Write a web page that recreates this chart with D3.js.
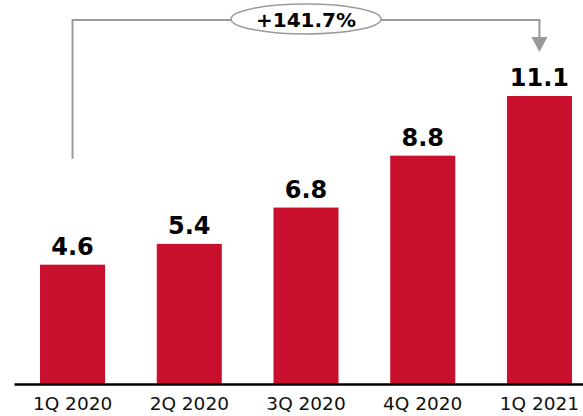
<!DOCTYPE html>
<html>
<head>
<meta charset="utf-8">
<script src="https://cdn.jsdelivr.net/npm/d3@7"></script>
<style>
body { margin: 0; background: #fff; }
text { font-family: Verdana, "DejaVu Sans", sans-serif; }
</style>
</head>
<body>
<script>
// quarterly values
var quarters = ["1Q 2020", "2Q 2020", "3Q 2020", "4Q 2020", "1Q 2021"];
var values = [4.6, 5.4, 6.8, 8.8, 11.1];
var valueLabels = ["4.6", "5.4", "6.8", "8.8", "11.1"];
var growthLabel = "+141.7%";

var width = 583, height = 416;
var baseY = 384;

var svg = d3.select("body").append("svg")
.attr("width", width)
.attr("height", height);

var xScale = d3.scaleBand().domain(quarters).range([14, 598]).paddingInner(0.443).paddingOuter(0.223);
var yScale = d3.scaleLinear().domain([0, 11.1]).range([baseY, 96]);

// bars
svg.selectAll("rect.bar")
.data(values)
.enter()
.append("rect")
.attr("class", "bar")
.attr("x", function(d, i){ return xScale(quarters[i]); })
.attr("y", function(d){ return yScale(d); })
.attr("width", xScale.bandwidth())
.attr("height", function(d){ return baseY - yScale(d); })
.attr("fill", "#c8102e");

// value labels
svg.selectAll("text.val")
.data(values)
.enter()
.append("text")
.attr("class", "val")
.attr("x", function(d, i){ return xScale(quarters[i]) + xScale.bandwidth() / 2; })
.attr("y", function(d){ return yScale(d) - 10; })
.attr("text-anchor", "middle")
.attr("font-size", 24)
.attr("font-weight", "bold")
.attr("fill", "#000")
.text(function(d, i){ return valueLabels[i]; });

// x axis
var xAxis = d3.axisBottom(xScale).tickSize(0).tickPadding(13);
var xAxisGroup = svg.append("g")
.attr("transform", "translate(0," + baseY + ")")
.call(xAxis);
xAxisGroup.select(".domain").attr("stroke", "#000").attr("stroke-width", 2.5);
xAxisGroup.selectAll("text").attr("font-size", 18.5).attr("fill", "#111")
.style("font-family", "Verdana, 'DejaVu Sans', sans-serif");

// growth connector
var x1 = xScale(quarters[0]) + xScale.bandwidth() / 2;
var x2 = xScale(quarters[4]) + xScale.bandwidth() / 2;
var topY = 20;
var grey = "#9a9a9a";

svg.append("path")
.attr("d", "M" + x1 + "," + (yScale(values[0]) - 106) + "V" + topY + "H" + x2 + "V" + 38)
.attr("fill", "none")
.attr("stroke", grey)
.attr("stroke-width", 2);

svg.append("path")
.attr("d", "M" + (x2 - 8) + "," + 37 + "L" + (x2 + 8) + "," + 37 + "L" + x2 + "," + 52 + "Z")
.attr("fill", grey);

var cx = (x1 + x2) / 2;
svg.append("ellipse")
.attr("cx", cx)
.attr("cy", 19)
.attr("rx", 75)
.attr("ry", 15)
.attr("fill", "#fff")
.attr("stroke", grey)
.attr("stroke-width", 1.5);

svg.append("text")
.attr("x", cx)
.attr("y", 27)
.attr("text-anchor", "middle")
.attr("font-size", 20)
.attr("font-weight", "bold")
.attr("fill", "#000")
.text(growthLabel);
</script>
</body>
</html>
